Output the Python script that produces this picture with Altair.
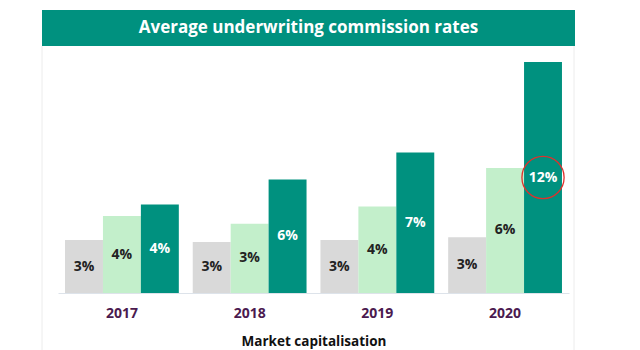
import altair as alt
import pandas as pd

years = ["2017", "2018", "2019", "2020"]
series = ["Small", "Mid", "Large"]
# bar heights (percent)
small_vals = [2.75, 2.65, 2.75, 2.9]
mid_vals = [4.0, 3.6, 4.5, 6.5]
large_vals = [4.6, 5.9, 7.3, 12.0]
# printed labels
small_labels = ["3%", "3%", "3%", "3%"]
mid_labels = ["4%", "3%", "4%", "6%"]
large_labels = ["4%", "6%", "7%", "12%"]
colors = ["#d9d9d9", "#c3efcb", "#00917f"]
text_colors = ["#222222", "#222222", "#ffffff"]
title_text = "Average underwriting commission rates"
x_title = "Market capitalisation"

rows = []
for i, y in enumerate(years):
    for s, vals, labs, tc in zip(series, [small_vals, mid_vals, large_vals],
                                 [small_labels, mid_labels, large_labels], text_colors):
        rows.append({"year": y, "series": s, "value": vals[i], "half": vals[i] / 2,
                     "label": labs[i], "tcolor": tc})
df = pd.DataFrame(rows)

W, H = 511, 231
FONT = "Open Sans"

x_enc = alt.X("year:N", sort=years,
              scale=alt.Scale(paddingInner=0.109, paddingOuter=0.055),
              axis=alt.Axis(title=x_title, labelAngle=0, ticks=False, grid=False,
                            domain=True, domainColor="#dde3ea", domainWidth=1,
                            labelColor="#4b1a4f", labelFont=FONT, labelFontSize=14,
                            labelFontWeight="bold", labelPadding=13,
                            titleFont=FONT, titleFontSize=13.5, titleFontWeight="bold",
                            titleColor="#111111", titlePadding=14))
xo_enc = alt.XOffset("series:N", sort=series, scale=alt.Scale(paddingInner=0, paddingOuter=0))
y_scale = alt.Scale(domain=[0, 12], nice=False)

base = alt.Chart(df)

bars = base.mark_bar().encode(
    x=x_enc, xOffset=xo_enc,
    y=alt.Y("value:Q", scale=y_scale, axis=None),
    color=alt.Color("series:N", sort=series,
                    scale=alt.Scale(domain=series, range=colors), legend=None),
)

labels = base.mark_text(font=FONT, fontSize=14, fontWeight="bold").encode(
    x=x_enc, xOffset=xo_enc,
    y=alt.Y("half:Q", scale=y_scale, axis=None),
    text="label:N",
    color=alt.Color("tcolor:N", scale=None),
)

circle = base.transform_filter(
    (alt.datum.year == "2020") & (alt.datum.series == "Large")
).mark_point(shape="circle", filled=False, size=1780, color="#e0302c",
             strokeWidth=1.3, opacity=1).encode(
    x=x_enc, xOffset=xo_enc,
    y=alt.Y("half:Q", scale=y_scale, axis=None),
)

deco = pd.DataFrame([{"t": title_text}])
banner = alt.Chart(deco).mark_rect(color="#00917f", clip=False).encode(
    x=alt.value(-16), x2=alt.value(517), y=alt.value(-52), y2=alt.value(-16))
banner_text = alt.Chart(deco).mark_text(
    font=FONT, fontSize=17, fontWeight="bold", color="#ffffff", clip=False
).encode(x=alt.value(250.5), y=alt.value(-34), text="t:N")
left_border = alt.Chart(deco).mark_rule(color="#ececec", strokeWidth=1, clip=False).encode(
    x=alt.value(-16), y=alt.value(-16), y2=alt.value(290))
right_border = alt.Chart(deco).mark_rule(color="#ececec", strokeWidth=1, clip=False).encode(
    x=alt.value(516), y=alt.value(-16), y2=alt.value(290))

chart = alt.layer(bars, labels, circle, banner, banner_text, left_border, right_border).properties(
    width=W, height=H,
    background="#ffffff",
    autosize=alt.AutoSizeParams(type="none"),
    padding={"left": 58, "top": 62, "right": 71, "bottom": 57},
).configure_view(stroke=None)

chart.save("out.html", embed_options={"renderer": "svg", "actions": False})
